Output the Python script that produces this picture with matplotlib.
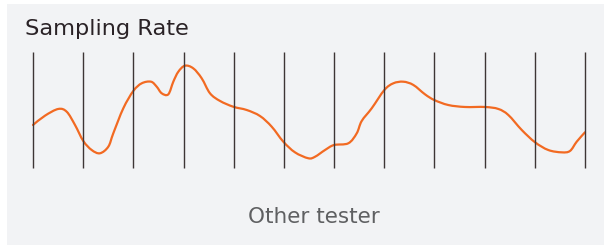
import numpy as np
import matplotlib.pyplot as plt
from matplotlib.patches import Rectangle, PathPatch
from matplotlib.path import Path

# sample instants (vertical lines)
samples = np.arange(0, 12)

# signal: time (in sample units) and amplitude (0..1)
sig_t = [0.0, 0.239, 0.504, 0.672, 0.837, 1.002, 1.170, 1.335, 1.501, 1.600,
         1.800, 1.999, 2.166, 2.352, 2.465, 2.565, 2.696, 2.796, 2.896, 3.029,
         3.194, 3.362, 3.527, 3.727, 3.992, 4.259, 4.524, 4.757, 4.988, 5.221,
         5.486, 5.620, 5.819, 5.998, 6.283, 6.451, 6.550, 6.750, 7.001, 7.180,
         7.379, 7.579, 7.812, 7.997, 8.276, 8.609, 9.007, 9.273, 9.472, 9.739,
         10.004, 10.269, 10.536, 10.701, 10.835, 11.0]
sig_v = [0.371, 0.451, 0.509, 0.485, 0.371, 0.233, 0.155, 0.127, 0.184, 0.299,
         0.515, 0.664, 0.730, 0.744, 0.701, 0.644, 0.635, 0.744, 0.830, 0.882,
         0.859, 0.773, 0.644, 0.578, 0.528, 0.500, 0.448, 0.356, 0.227, 0.135,
         0.084, 0.097, 0.155, 0.198, 0.213, 0.299, 0.405, 0.515, 0.672, 0.730,
         0.744, 0.716, 0.635, 0.586, 0.543, 0.526, 0.526, 0.509, 0.457, 0.328,
         0.222, 0.155, 0.135, 0.147, 0.227, 0.308]

title = 'Sampling Rate'
caption = 'Other tester'


def smooth_path(xs, ys):
    # catmull-rom through the points, drawn as cubic bezier segments
    p = np.column_stack([xs, ys])
    n = len(p)
    verts = [p[0]]
    codes = [Path.MOVETO]
    for i in range(n - 1):
        p0 = p[i - 1] if i > 0 else p[i]
        p1 = p[i]
        p2 = p[i + 1]
        p3 = p[i + 2] if i + 2 < n else p[i + 1]
        verts += [p1 + (p2 - p0) / 6, p2 - (p3 - p1) / 6, p2]
        codes += [Path.CURVE4] * 3
    return Path(verts, codes)


W, H = 604, 246
fig = plt.figure(figsize=(W / 100, H / 100), dpi=100)
fig.patch.set_facecolor('white')

# light grey card behind everything
fig.patches.append(Rectangle((7 / W, 1 - 245 / H), 1 - 7 / W, 241 / H,
                             transform=fig.transFigure, facecolor='#f2f3f5',
                             edgecolor='none', zorder=-10))

ax = fig.add_axes([33 / W, 1 - 168 / H, (585 - 33) / W, (168 - 52) / H])
ax.set_xlim(0, 11)
ax.set_ylim(0, 1)
ax.axis('off')
ax.set_zorder(1)

ax.vlines(samples, 0, 1, color='#3d3535', linewidth=1.0, clip_on=False)
ax.add_patch(PathPatch(smooth_path(sig_t, sig_v), fill=False,
                       edgecolor='#f26a22', linewidth=1.6,
                       capstyle='round', joinstyle='round', clip_on=False))

fig.text(25 / W, 1 - 35 / H, title, fontsize=16.2, family='DejaVu Sans',
         color='#2a2226', ha='left', va='baseline')
fig.text(314 / W, 1 - 223 / H, caption, fontsize=15.5, family='DejaVu Sans',
         color='#5f6062', ha='center', va='baseline')

fig.savefig('out.png', dpi=100)
